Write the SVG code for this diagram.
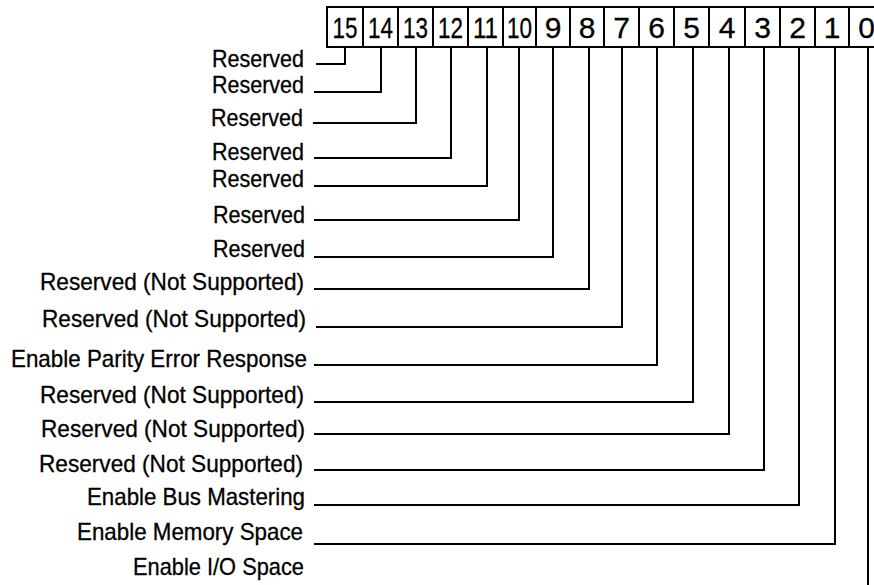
<svg xmlns="http://www.w3.org/2000/svg" width="874" height="585" viewBox="0 0 874 585">
<style>
.cell{fill:#fff;stroke:#000;stroke-width:2}
.num{font-family:"Liberation Sans",Arial,sans-serif;font-size:30px;text-anchor:middle;fill:#000;stroke:#000;stroke-width:0.3}
.lbl{font-family:"Liberation Sans",Arial,sans-serif;font-size:24px;text-anchor:end;fill:#000;stroke:#000;stroke-width:0.3}
.conn{fill:none;stroke:#000;stroke-width:2}
</style>
<rect width="874" height="585" fill="#fff"/>
<g id="register">
<g id="bit15"><rect class="cell" x="327" y="7" width="36" height="40"/><text class="num" x="345" y="37.5" textLength="25" lengthAdjust="spacingAndGlyphs">15</text></g>
<g id="bit14"><rect class="cell" x="363" y="7" width="35" height="40"/><text class="num" x="380.5" y="37.5" textLength="25" lengthAdjust="spacingAndGlyphs">14</text></g>
<g id="bit13"><rect class="cell" x="398" y="7" width="35" height="40"/><text class="num" x="415.5" y="37.5" textLength="25" lengthAdjust="spacingAndGlyphs">13</text></g>
<g id="bit12"><rect class="cell" x="433" y="7" width="35" height="40"/><text class="num" x="450.5" y="37.5" textLength="25" lengthAdjust="spacingAndGlyphs">12</text></g>
<g id="bit11"><rect class="cell" x="468" y="7" width="35" height="40"/><text class="num" x="485.5" y="37.5" textLength="25" lengthAdjust="spacingAndGlyphs">11</text></g>
<g id="bit10"><rect class="cell" x="503" y="7" width="33" height="40"/><text class="num" x="519.5" y="37.5" textLength="25" lengthAdjust="spacingAndGlyphs">10</text></g>
<g id="bit9"><rect class="cell" x="536" y="7" width="34" height="40"/><text class="num" x="553" y="37.5">9</text></g>
<g id="bit8"><rect class="cell" x="570" y="7" width="34" height="40"/><text class="num" x="587" y="37.5">8</text></g>
<g id="bit7"><rect class="cell" x="604" y="7" width="35" height="40"/><text class="num" x="621.5" y="37.5">7</text></g>
<g id="bit6"><rect class="cell" x="639" y="7" width="35" height="40"/><text class="num" x="656.5" y="37.5">6</text></g>
<g id="bit5"><rect class="cell" x="674" y="7" width="35" height="40"/><text class="num" x="691.5" y="37.5">5</text></g>
<g id="bit4"><rect class="cell" x="709" y="7" width="36" height="40"/><text class="num" x="727" y="37.5">4</text></g>
<g id="bit3"><rect class="cell" x="745" y="7" width="35" height="40"/><text class="num" x="762.5" y="37.5">3</text></g>
<g id="bit2"><rect class="cell" x="780" y="7" width="35" height="40"/><text class="num" x="797.5" y="37.5">2</text></g>
<g id="bit1"><rect class="cell" x="815" y="7" width="34" height="40"/><text class="num" x="832" y="37.5">1</text></g>
<g id="bit0"><rect class="cell" x="849" y="7" width="35" height="40"/><text class="num" x="866.5" y="37.5">0</text></g>
</g>
<g id="labels">
<g id="label15"><text class="lbl" x="304" y="67" textLength="92" lengthAdjust="spacingAndGlyphs">Reserved</text></g>
<g id="label14"><text class="lbl" x="304" y="93" textLength="92" lengthAdjust="spacingAndGlyphs">Reserved</text></g>
<g id="label13"><text class="lbl" x="303" y="126" textLength="92" lengthAdjust="spacingAndGlyphs">Reserved</text></g>
<g id="label12"><text class="lbl" x="304" y="160" textLength="92" lengthAdjust="spacingAndGlyphs">Reserved</text></g>
<g id="label11"><text class="lbl" x="304" y="187" textLength="92" lengthAdjust="spacingAndGlyphs">Reserved</text></g>
<g id="label10"><text class="lbl" x="305" y="223" textLength="92" lengthAdjust="spacingAndGlyphs">Reserved</text></g>
<g id="label9"><text class="lbl" x="305" y="257" textLength="92" lengthAdjust="spacingAndGlyphs">Reserved</text></g>
<g id="label8"><text class="lbl" x="304" y="290" textLength="264" lengthAdjust="spacingAndGlyphs">Reserved (Not Supported)</text></g>
<g id="label7"><text class="lbl" x="306" y="327" textLength="264" lengthAdjust="spacingAndGlyphs">Reserved (Not Supported)</text></g>
<g id="label6"><text class="lbl" x="307" y="367" textLength="296" lengthAdjust="spacingAndGlyphs">Enable Parity Error Response</text></g>
<g id="label5"><text class="lbl" x="304" y="403" textLength="264" lengthAdjust="spacingAndGlyphs">Reserved (Not Supported)</text></g>
<g id="label4"><text class="lbl" x="305" y="437" textLength="264" lengthAdjust="spacingAndGlyphs">Reserved (Not Supported)</text></g>
<g id="label3"><text class="lbl" x="303" y="472" textLength="264" lengthAdjust="spacingAndGlyphs">Reserved (Not Supported)</text></g>
<g id="label2"><text class="lbl" x="305" y="505" textLength="218" lengthAdjust="spacingAndGlyphs">Enable Bus Mastering</text></g>
<g id="label1"><text class="lbl" x="303" y="540" textLength="226" lengthAdjust="spacingAndGlyphs">Enable Memory Space</text></g>
<g id="label0"><text class="lbl" x="304" y="575" textLength="171" lengthAdjust="spacingAndGlyphs">Enable I/O Space</text></g>
</g>
<g id="connectors" class="conn">
<path d="M316 64H345V47"/>
<path d="M314 92H381V47"/>
<path d="M313 123H416V47"/>
<path d="M314 158H451V47"/>
<path d="M314 186H487V47"/>
<path d="M314 220H519V47"/>
<path d="M314 257H553V47"/>
<path d="M314 289H589V47"/>
<path d="M316 327H622V47"/>
<path d="M314 365H657V47"/>
<path d="M314 402H693V47"/>
<path d="M314 434H729V47"/>
<path d="M314 470H764V47"/>
<path d="M314 505H799V47"/>
<path d="M314 544H835V47"/>
<path d="M868 47V590"/>
</g>
</svg>
